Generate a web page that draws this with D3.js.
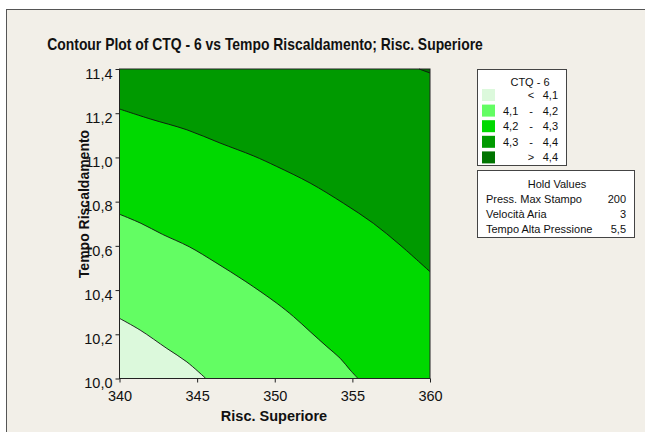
<!DOCTYPE html>
<html lang="it">
  <head>
    <meta charset="utf-8" />
    <title>Contour Plot of CTQ - 6</title>
    <style>
      html, body { margin: 0; padding: 0; background: #ffffff; }
      svg { display: block; font-family: 'Liberation Sans', Arial, sans-serif; }
    </style>
  </head>
  <body>
    <svg></svg>
    <script src="https://d3js.org/d3.v7.min.js"></script>
    <script type="text/javascript">
      let width = 645,
        height = 432

      // Axes
      let xDomain = [340, 360]
      let yDomain = [10.0, 11.4]
      let xTicks = [340, 345, 350, 355, 360]
      let yTicks = [10.0, 10.2, 10.4, 10.6, 10.8, 11.0, 11.2, 11.4]

      // Contour levels (legend)
      let levelLabels = [['', '<', '4,1'], ['4,1', '-', '4,2'], ['4,2', '-', '4,3'], ['4,3', '-', '4,4'], ['', '>', '4,4']]
      let levelColors = ['#dcf9dc', '#63fd63', '#00d900', '#009a00', '#007400']

      // Contour lines: [Risc. Superiore, Tempo Riscaldamento]
      let line41 = [[340, 10.272], [341.33, 10.219], [343.05, 10.136], [344.34, 10.075], [345.56, 10.0]]
      let line42 = [
        [340, 10.743], [341.38, 10.702], [342.77, 10.652], [344.49, 10.596], [346.21, 10.524], [348.14, 10.438],
        [350.14, 10.34], [351.21, 10.28], [352.28, 10.212], [353.36, 10.144], [354.22, 10.091], [354.86, 10.038], [355.36, 10.0],
      ]
      let line43 = [
        [340, 11.219], [341.98, 11.174], [344.34, 11.125], [346.48, 11.065], [348.63, 11.007], [350.13, 10.959],
        [352.28, 10.884], [354.42, 10.793], [356.35, 10.702], [358.07, 10.604], [360, 10.483],
      ]
      let line44 = [[359.3, 11.4], [360, 11.382]]

      // Hold values
      let holdNames = ['Press. Max Stampo', 'Velocità Aria', 'Tempo Alta Pressione']
      let holdValues = ['200', '3', '5,5']

      let svg = d3.select('svg').attr('width', width).attr('height', height)

      // Outer frame
      svg.append('rect').attr('x', 6.5).attr('y', 9.5).attr('width', width).attr('height', height)
        .attr('fill', '#f2efe8').attr('stroke', '#555').attr('stroke-width', 1)

      // title: a bold face squeezed to the width of the original condensed one
      let title = svg.append('text').attr('text-anchor', 'middle')
        .attr('font-size', 16.5).attr('font-weight', 'bold').attr('fill', '#111')
        .text('Contour Plot of CTQ - 6 vs Tempo Riscaldamento; Risc. Superiore')
      let tw = title.node().getComputedTextLength()
      title.attr('transform', `translate(265,50) scale(${436 / tw},1)`)

      let x = d3.scaleLinear().domain(xDomain).range([119.5, 430])
      let y = d3.scaleLinear().domain(yDomain).range([378.5, 69])

      let line = d3.line().x((d) => x(d[0])).y((d) => y(d[1])).curve(d3.curveCatmullRom)
      let corner = (pts) => pts.map((p) => 'L' + x(p[0]) + ',' + y(p[1])).join('') + 'Z'

      let plot = svg.append('g')
      plot.append('rect').attr('x', x(340)).attr('y', y(11.4)).attr('width', x(360) - x(340)).attr('height', y(10) - y(11.4))
        .attr('fill', levelColors[3])

      // regions, each painted below (or above) its boundary line
      plot.append('path').attr('d', line(line43) + corner([[360, 10], [340, 10]])).attr('fill', levelColors[2])
      plot.append('path').attr('d', line(line42) + corner([[340, 10]])).attr('fill', levelColors[1])
      plot.append('path').attr('d', line(line41) + corner([[340, 10]])).attr('fill', levelColors[0])
      plot.append('path').attr('d', line(line44) + corner([[360, 11.4]])).attr('fill', levelColors[4])

      ;[line41, line42, line43, line44].forEach((l) => {
        plot.append('path').attr('d', line(l)).attr('fill', 'none').attr('stroke', '#111').attr('stroke-width', 0.9)
      })

      plot.append('rect').attr('x', x(340)).attr('y', y(11.4)).attr('width', x(360) - x(340)).attr('height', y(10) - y(11.4))
        .attr('fill', 'none').attr('stroke', '#222').attr('stroke-width', 1)

      // Axes
      svg.append('g').attr('transform', `translate(0,${y(10)})`)
        .call(d3.axisBottom(x).tickValues(xTicks).tickSize(4).tickFormat(d3.format('d')))
        .call((g) => g.select('.domain').remove())
        .call((g) => g.selectAll('text').attr('font-size', 14.5).attr('font-family', "'Liberation Sans', Arial, sans-serif").attr('fill', '#111').attr('y', 12).attr('dy', '0.71em'))
        .call((g) => g.selectAll('line').attr('stroke', '#222'))

      svg.append('g').attr('transform', `translate(${x(340)},0)`)
        .call(d3.axisLeft(y).tickValues(yTicks).tickSize(4).tickFormat((d) => d3.format('.1f')(d).replace('.', ',')))
        .call((g) => g.select('.domain').remove())
        .call((g) => g.selectAll('text').attr('font-size', 14.5).attr('font-family', "'Liberation Sans', Arial, sans-serif").attr('fill', '#111').attr('x', -7).attr('dy', '0.64em'))
        .call((g) => g.selectAll('line').attr('stroke', '#222'))

      svg.append('text').attr('x', 274).attr('y', 421).attr('text-anchor', 'middle')
        .attr('font-size', 14.5).attr('font-weight', 'bold').attr('fill', '#111').text('Risc. Superiore')

      svg.append('text').attr('transform', 'translate(89,204) rotate(-90)').attr('text-anchor', 'middle')
        .attr('font-size', 14).attr('font-weight', 'bold').attr('fill', '#111').text('Tempo Riscaldamento')

      // Legend
      let legend = svg.append('g').attr('font-size', 11).attr('fill', '#111')
      legend.append('rect').attr('x', 477.5).attr('y', 69.5).attr('width', 89).attr('height', 96)
        .attr('fill', '#fff').attr('stroke', '#444')
      legend.append('text').attr('x', 530).attr('y', 86).attr('text-anchor', 'middle').text('CTQ - 6')
      levelColors.forEach((c, i) => {
        let cy = 95 + i * 15.6
        legend.append('rect').attr('x', 482).attr('y', cy - 6).attr('width', 13).attr('height', 12).attr('fill', c)
        let lab = levelLabels[i]
        legend.append('text').attr('x', 503).attr('y', cy + 4).text(lab[0])
        legend.append('text').attr('x', 531).attr('y', cy + 4).attr('text-anchor', 'middle').text(lab[1])
        legend.append('text').attr('x', 558).attr('y', cy + 4).attr('text-anchor', 'end').text(lab[2])
      })

      // Hold values box
      let hold = svg.append('g').attr('font-size', 11).attr('fill', '#111')
      hold.append('rect').attr('x', 477.5).attr('y', 170.5).attr('width', 157).attr('height', 67)
        .attr('fill', '#fff').attr('stroke', '#444')
      hold.append('text').attr('x', 557).attr('y', 188).attr('text-anchor', 'middle').text('Hold Values')
      holdNames.forEach((n, i) => {
        let by = 203 + i * 15.2
        hold.append('text').attr('x', 486).attr('y', by).text(n)
        hold.append('text').attr('x', 626).attr('y', by).attr('text-anchor', 'end').text(holdValues[i])
      })
    </script>
  </body>
</html>
